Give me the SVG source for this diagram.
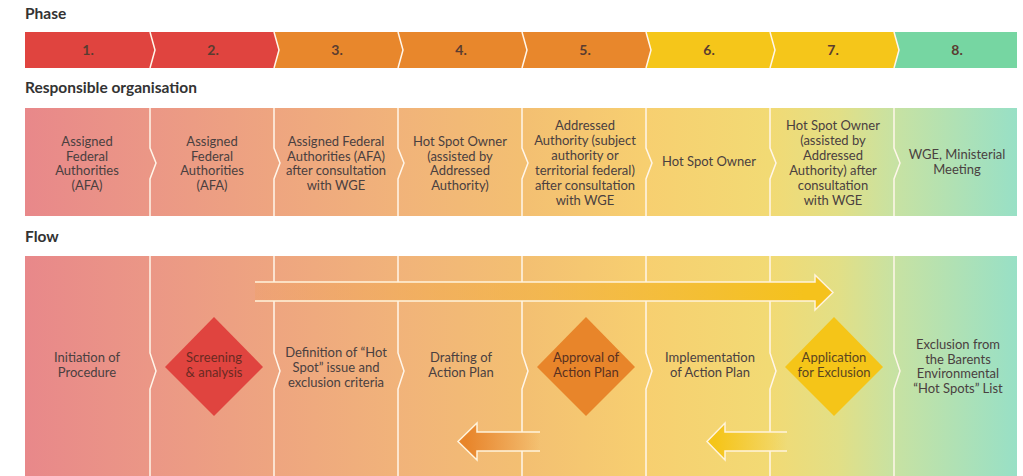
<svg xmlns="http://www.w3.org/2000/svg" width="1023" height="476" viewBox="0 0 1023 476">
<defs>
<linearGradient id="bg" gradientUnits="userSpaceOnUse" x1="25" y1="0" x2="1017" y2="0">
<stop offset="0" stop-color="#e8888a"/>
<stop offset="0.126" stop-color="#eb9786"/>
<stop offset="0.25" stop-color="#eea580"/>
<stop offset="0.375" stop-color="#f1b37a"/>
<stop offset="0.5" stop-color="#f3bf72"/>
<stop offset="0.625" stop-color="#f7cf70"/>
<stop offset="0.75" stop-color="#f2da74"/>
<stop offset="0.82" stop-color="#e2df86"/>
<stop offset="0.875" stop-color="#c8e2a2"/>
<stop offset="1" stop-color="#98e0c6"/>
</linearGradient>
<linearGradient id="gTop" gradientUnits="userSpaceOnUse" x1="255" y1="0" x2="833" y2="0">
<stop offset="0" stop-color="#f09a40" stop-opacity="0.15"/>
<stop offset="0.5" stop-color="#f2b03a" stop-opacity="0.6"/>
<stop offset="0.95" stop-color="#f5c21c" stop-opacity="1"/>
</linearGradient>
<linearGradient id="gB1" gradientUnits="userSpaceOnUse" x1="458" y1="0" x2="540" y2="0">
<stop offset="0.1" stop-color="#e8852a" stop-opacity="1"/>
<stop offset="1" stop-color="#e8852a" stop-opacity="0"/>
</linearGradient>
<linearGradient id="gB2" gradientUnits="userSpaceOnUse" x1="707" y1="0" x2="787" y2="0">
<stop offset="0.1" stop-color="#f5c518" stop-opacity="1"/>
<stop offset="1" stop-color="#f5c518" stop-opacity="0"/>
</linearGradient>
<style>
.h{font-family:Lato,"Liberation Sans",sans-serif;font-weight:bold;font-size:15.5px;fill:#333}
.ph{font-family:Lato,"Liberation Sans",sans-serif;font-weight:bold;font-size:14px;fill:#5a3c30;text-anchor:middle}
.t{font-family:Lato,"Liberation Sans",sans-serif;font-size:13px;fill:#4a4040;text-anchor:middle}
.sep{fill:none;stroke:#fff6ea;stroke-width:1.5}
.ol{fill:none;stroke:#fff3dc;stroke-width:1.5;stroke-linejoin:miter}
</style>
</defs>
<rect width="1023" height="476" fill="#fff"/>

<text class="h" x="25" y="19">Phase</text>
<text class="h" x="25" y="93">Responsible organisation</text>
<text class="h" x="25" y="242">Flow</text>

<g id="phases">
<polygon points="25,32 150,32 155,50 150,68 25,68" fill="#e0443f"/>
<polygon points="150,32 274,32 279,50 274,68 150,68 155,50" fill="#e0443f"/>
<polygon points="274,32 398,32 403,50 398,68 274,68 279,50" fill="#e8872c"/>
<polygon points="398,32 522,32 527,50 522,68 398,68 403,50" fill="#e8872c"/>
<polygon points="522,32 646,32 651,50 646,68 522,68 527,50" fill="#e8872c"/>
<polygon points="646,32 770,32 775,50 770,68 646,68 651,50" fill="#f5c61a"/>
<polygon points="770,32 894,32 899,50 894,68 770,68 775,50" fill="#f5c61a"/>
<polygon points="894,32 1017,32 1017,68 894,68 899,50" fill="#76d6a2"/>
<g class="sep">
<polyline points="150,32 155,50 150,68"/>
<polyline points="274,32 279,50 274,68"/>
<polyline points="398,32 403,50 398,68"/>
<polyline points="522,32 527,50 522,68"/>
<polyline points="646,32 651,50 646,68"/>
<polyline points="770,32 775,50 770,68"/>
<polyline points="894,32 899,50 894,68"/>
</g>
<text class="ph" x="88" y="55">1.</text>
<text class="ph" x="213" y="55">2.</text>
<text class="ph" x="337" y="55">3.</text>
<text class="ph" x="461" y="55">4.</text>
<text class="ph" x="585" y="55">5.</text>
<text class="ph" x="709" y="55">6.</text>
<text class="ph" x="833" y="55">7.</text>
<text class="ph" x="957" y="55">8.</text>
</g>

<g id="responsible">
<rect x="25" y="108" width="992" height="108" fill="url(#bg)"/>
<g class="sep">
<polyline points="150,108 150,148 156,163 150,179 150,216"/>
<polyline points="274,108 274,148 280,163 274,179 274,216"/>
<polyline points="398,108 398,148 404,163 398,179 398,216"/>
<polyline points="522,108 522,148 528,163 522,179 522,216"/>
<polyline points="646,108 646,148 652,163 646,179 646,216"/>
<polyline points="770,108 770,148 776,163 770,179 770,216"/>
<polyline points="894,108 894,148 900,163 894,179 894,216"/>
</g>
<text class="t" x="87" y="146">Assigned<tspan x="87" dy="14.7">Federal</tspan><tspan x="87" dy="14.7">Authorities</tspan><tspan x="87" dy="14.7">(AFA)</tspan></text>
<text class="t" x="212" y="146">Assigned<tspan x="212" dy="14.7">Federal</tspan><tspan x="212" dy="14.7">Authorities</tspan><tspan x="212" dy="14.7">(AFA)</tspan></text>
<text class="t" x="336" y="146">Assigned Federal<tspan x="336" dy="14.7">Authorities (AFA)</tspan><tspan x="336" dy="14.7">after consultation</tspan><tspan x="336" dy="14.7">with WGE</tspan></text>
<text class="t" x="460" y="146">Hot Spot Owner<tspan x="460" dy="14.7">(assisted by</tspan><tspan x="460" dy="14.7">Addressed</tspan><tspan x="460" dy="14.7">Authority)</tspan></text>
<text class="t" x="585" y="130">Addressed<tspan x="585" dy="14.9">Authority (subject</tspan><tspan x="585" dy="14.9">authority or</tspan><tspan x="585" dy="14.9">territorial federal)</tspan><tspan x="585" dy="14.9">after consultation</tspan><tspan x="585" dy="14.9">with WGE</tspan></text>
<text class="t" x="709" y="166">Hot Spot Owner</text>
<text class="t" x="833" y="130">Hot Spot Owner<tspan x="833" dy="14.9">(assisted by</tspan><tspan x="833" dy="14.9">Addressed</tspan><tspan x="833" dy="14.9">Authority) after</tspan><tspan x="833" dy="14.9">consultation</tspan><tspan x="833" dy="14.9">with WGE</tspan></text>
<text class="t" x="957" y="159">WGE, Ministerial<tspan x="957" dy="14.7">Meeting</tspan></text>
</g>

<g id="flow-bg">
<rect x="25" y="256" width="992" height="220" fill="url(#bg)"/>
<g class="sep">
<polyline points="150,256 150,353 156,371 150,389 150,476"/>
<polyline points="274,256 274,353 280,371 274,389 274,476"/>
<polyline points="398,256 398,353 404,371 398,389 398,476"/>
<polyline points="522,256 522,353 528,371 522,389 522,476"/>
<polyline points="646,256 646,353 652,371 646,389 646,476"/>
<polyline points="770,256 770,353 776,371 770,389 770,476"/>
<polyline points="894,256 894,353 900,371 894,389 894,476"/>
</g>
</g>

<g id="connectors">
<path d="M255,282 H815 V275 L833,292.5 L815,310 V301 H255 Z" fill="url(#bg)"/>
<path d="M255,282 H815 V275 L833,292.5 L815,310 V301 H255 Z" fill="url(#gTop)"/>
<path class="ol" d="M255,282 H815 V275 L833,292.5 L815,310 V301 H255"/>
<path d="M540,432 H477 V423 L458,441.5 L477,460 V451 H540 Z" fill="url(#bg)"/>
<path d="M540,432 H477 V423 L458,441.5 L477,460 V451 H540 Z" fill="url(#gB1)"/>
<path class="ol" d="M540,432 H477 V423 L458,441.5 L477,460 V451 H540"/>
<path d="M787,432 H725 V423 L707,441.5 L725,460 V451 H787 Z" fill="url(#bg)"/>
<path d="M787,432 H725 V423 L707,441.5 L725,460 V451 H787 Z" fill="url(#gB2)"/>
<path class="ol" d="M787,432 H725 V423 L707,441.5 L725,460 V451 H787"/>
</g>

<g id="n1"><text class="t" x="87" y="362">Initiation of<tspan x="87" dy="15">Procedure</tspan></text></g>
<g id="n2"><polygon points="214,317 263,367 214,416 165,367" fill="#e0443f"/><text class="t" x="214" y="362" style="fill:#6a2a22">Screening<tspan x="214" dy="15">&amp; analysis</tspan></text></g>
<g id="n3"><text class="t" x="336" y="357">Definition of “Hot<tspan x="336" dy="15">Spot” issue and</tspan><tspan x="336" dy="15">exclusion criteria</tspan></text></g>
<g id="n4"><text class="t" x="461" y="362">Drafting of<tspan x="461" dy="15">Action Plan</tspan></text></g>
<g id="n5"><polygon points="586,317 635,367 586,416 537,367" fill="#e8852a"/><text class="t" x="586" y="362" style="fill:#5a3020">Approval of<tspan x="586" dy="15">Action Plan</tspan></text></g>
<g id="n6"><text class="t" x="710" y="362">Implementation<tspan x="710" dy="15">of Action Plan</tspan></text></g>
<g id="n7"><polygon points="834,317 883,367 834,416 785,367" fill="#f5c518"/><text class="t" x="834" y="362" style="fill:#5a4420">Application<tspan x="834" dy="15">for Exclusion</tspan></text></g>
<g id="n8"><text class="t" x="958" y="349">Exclusion from<tspan x="958" dy="14.7">the Barents</tspan><tspan x="958" dy="14.7">Environmental</tspan><tspan x="958" dy="14.7">“Hot Spots” List</tspan></text></g>
</svg>
